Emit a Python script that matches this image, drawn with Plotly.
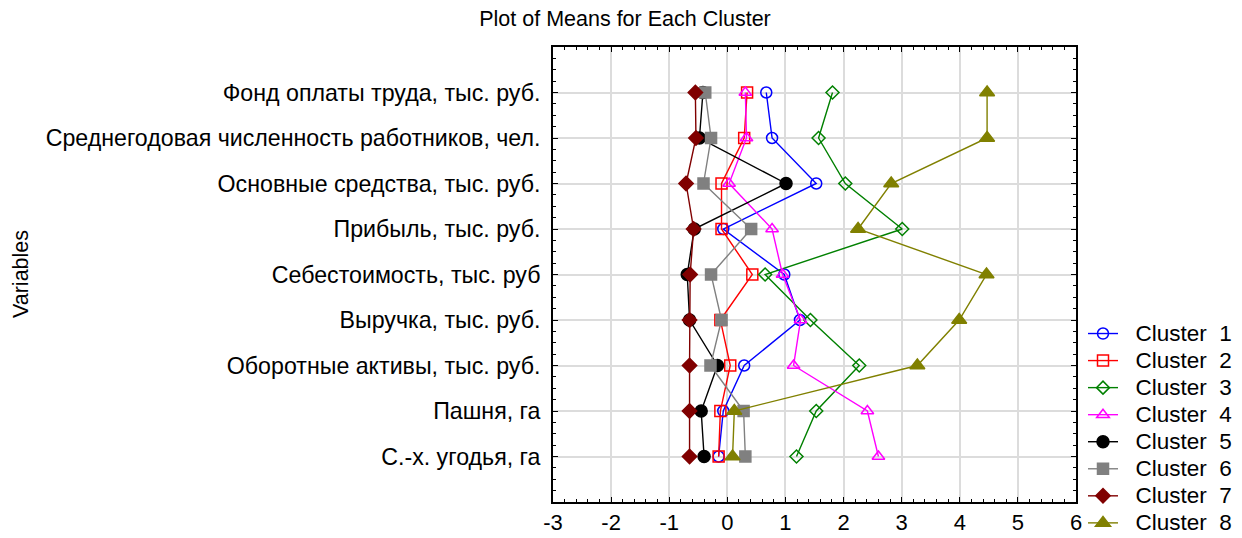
import plotly.graph_objects as go

variables = [
    "Фонд оплаты труда, тыс. руб.",
    "Среднегодовая численность работников, чел.",
    "Основные средства, тыс. руб.",
    "Прибыль, тыс. руб.",
    "Себестоимость, тыс. руб",
    "Выручка, тыс. руб.",
    "Оборотные активы, тыс. руб.",
    "Пашня, га",
    "С.-х. угодья, га",
]

cluster1 = [0.67, 0.77, 1.53, -0.07, 0.98, 1.25, 0.29, -0.07, -0.15]
cluster2 = [0.34, 0.29, -0.10, -0.10, 0.43, -0.12, 0.05, -0.12, -0.15]
cluster3 = [1.81, 1.57, 2.03, 3.01, 0.65, 1.43, 2.27, 1.53, 1.19]
cluster4 = [0.31, 0.33, 0.03, 0.77, 0.95, 1.26, 1.14, 2.41, 2.60]
cluster5 = [-0.42, -0.48, 1.01, -0.57, -0.69, -0.65, -0.17, -0.45, -0.40]
cluster6 = [-0.38, -0.28, -0.41, 0.41, -0.28, -0.10, -0.29, 0.28, 0.31]
cluster7 = [-0.55, -0.54, -0.71, -0.58, -0.64, -0.65, -0.65, -0.65, -0.65]
cluster8 = [4.47, 4.47, 2.82, 2.25, 4.46, 3.99, 3.27, 0.12, 0.09]

cluster_names = ["Cluster\u00a0 1", "Cluster\u00a0 2", "Cluster\u00a0 3", "Cluster\u00a0 4",
                 "Cluster\u00a0 5", "Cluster\u00a0 6", "Cluster\u00a0 7", "Cluster\u00a0 8"]
x_ticks = [-3, -2, -1, 0, 1, 2, 3, 4, 5, 6]

series = [cluster1, cluster2, cluster3, cluster4, cluster5, cluster6, cluster7, cluster8]
styles = [
    ("#0000FF", "circle-open", 11),
    ("#FF0000", "square-open", 11),
    ("#008000", "diamond-open", 10),
    ("#FF00FF", "triangle-up-open", 11),
    ("#000000", "circle", 12),
    ("#808080", "square", 11),
    ("#800000", "diamond", 11),
    ("#808000", "triangle-up", 13),
]

ypos = list(range(len(variables)))

FAM = "Liberation Sans, Arial, sans-serif"

fig = go.Figure()
for name, vals, (col, sym, sz) in zip(cluster_names, series, styles):
    fig.add_trace(go.Scatter(
        x=vals, y=ypos, mode="lines+markers",
        name="<span style='font-size:22.5px'>\u00a0\u00a0" + name + "</span>",
        line=dict(color=col, width=1.4),
        marker=dict(symbol=sym, size=sz, color=col, line=dict(color=col, width=1.5)),
    ))

# page body has an 8px margin: shrink figure so that absolute positions match
W, H = 1234, 530
L, R, T, B = 545, 166, 39, 36
plot_w = W - L - R
plot_h = H - T - B

fig.update_layout(
    width=W, height=H,
    margin=dict(l=L, r=R, t=T, b=B, autoexpand=False),
    paper_bgcolor="white", plot_bgcolor="white",
    font=dict(family=FAM, size=22, color="black"),
    title=dict(text="Plot of Means for Each Cluster", x=(625 - 8) / W, xanchor="center",
               y=1 - 10 / H, yanchor="middle", yref="container",
               font=dict(family=FAM, size=21.5, color="black")),
    showlegend=True,
    legend=dict(x=(1083 - 553) / plot_w, xanchor="left", y=(502 - 315) / plot_h, yanchor="top",
                font=dict(family=FAM, size=18.5, color="black"),
                bgcolor="rgba(0,0,0,0)", tracegroupgap=0),
    xaxis=dict(
        range=[-3, 6], tickvals=x_ticks, ticktext=[str(v) for v in x_ticks],
        showgrid=True, gridcolor="#dcdcdc", gridwidth=1.5, zeroline=False,
        showline=True, linecolor="black", linewidth=1.8, mirror="ticks",
        ticks="inside", ticklen=5, tickcolor="black", tickwidth=1.3,
        minor=dict(dtick=0.2, ticks="inside", ticklen=3, tickcolor="black", showgrid=False),
        tickfont=dict(family=FAM, size=22, color="black"),
    ),
    yaxis=dict(
        range=[9, -1], tickvals=ypos, ticktext=variables,
        showgrid=True, gridcolor="#dcdcdc", gridwidth=1.5, zeroline=False,
        showline=True, linecolor="black", linewidth=1.8, mirror="ticks",
        ticks="inside", ticklen=5, tickcolor="black", tickwidth=1.3,
        minor=dict(tick0=0, dtick=0.25, ticks="inside", ticklen=3, tickcolor="black", showgrid=False),
        tickfont=dict(family=FAM, size=23.2, color="black"), ticklabelstandoff=6,
    ),
    annotations=[dict(text="Variables", x=(21 - 553) / plot_w, xref="paper", xanchor="center",
                      y=(502 - 274) / plot_h, yref="paper", yanchor="middle",
                      showarrow=False, textangle=-90,
                      font=dict(family=FAM, size=21.5, color="black"))],
)

fig.write_html("out.html")
